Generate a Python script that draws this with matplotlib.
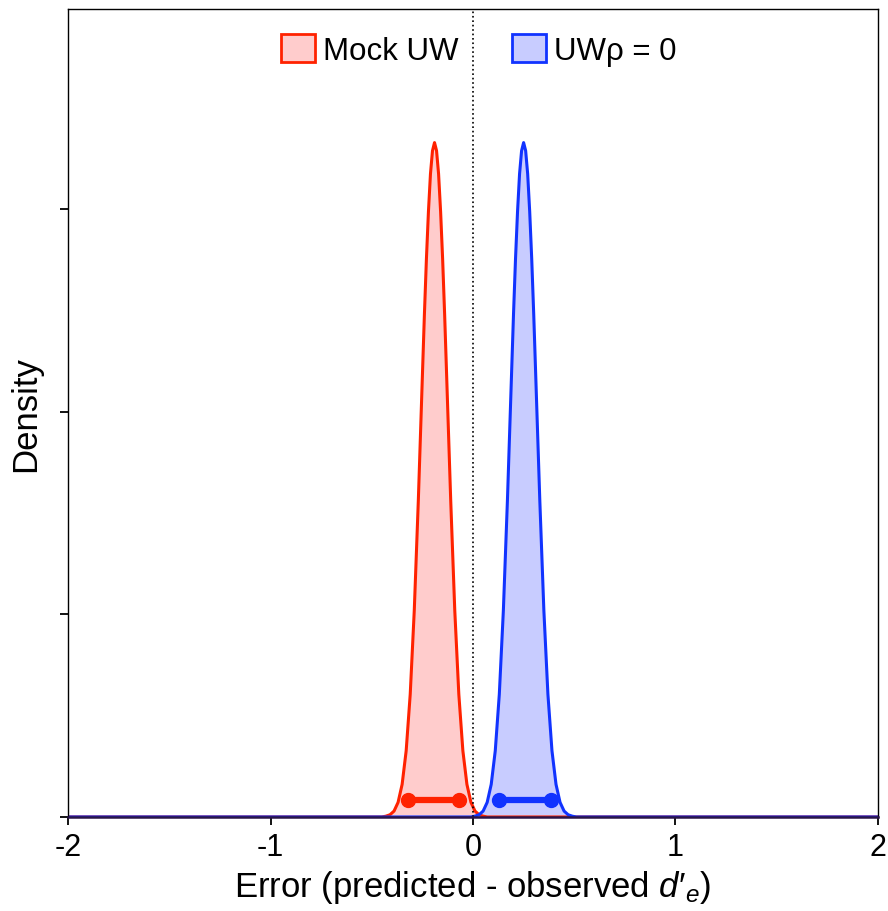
import matplotlib
matplotlib.use("Agg")
import matplotlib.pyplot as plt
from matplotlib.patches import Patch

plt.rcParams['font.family'] = ['Liberation Sans', 'DejaVu Sans']
plt.rcParams['mathtext.fontset'] = 'custom'
plt.rcParams['mathtext.rm'] = 'Liberation Sans'
plt.rcParams['mathtext.it'] = 'Liberation Sans:italic'

# density curves (offsets from each peak, in x units)
offsets = [-1.81, -0.26, -0.24, -0.22, -0.20, -0.18, -0.16, -0.14, -0.12, -0.10, -0.08, -0.06, -0.05, -0.04,
           -0.03, -0.02, -0.01, 0.0, 0.01, 0.02, 0.03, 0.04, 0.05, 0.06, 0.08, 0.10, 0.12, 0.14, 0.16,
           0.18, 0.20, 0.22, 0.24, 0.26, 2.19]
dens = [0.0, 0.0, 0.004, 0.011, 0.029, 0.072, 0.161, 0.327, 0.606, 1.020, 1.562, 2.175, 2.48, 2.756,
        2.99, 3.176, 3.29, 3.33, 3.29, 3.176, 2.99, 2.756, 2.48, 2.175, 1.562, 1.020, 0.606, 0.327, 0.161,
        0.072, 0.029, 0.011, 0.004, 0.0, 0.0]
red_peak = -0.19
blue_peak = 0.25
red_x = [red_peak + o for o in offsets]
blue_x = [blue_peak + o for o in offsets]
blue_x[0], blue_x[-1] = -2.0, 2.0
red_x[0], red_x[-1] = -2.0, 2.0

# intervals
red_ci = [-0.32, -0.068]
blue_ci = [0.13, 0.384]
ci_y = 0.084

red_line = '#ff2200'
red_fill = '#ffcccc'
blue_line = '#1133ff'
blue_fill = '#c8ccff'

fig = plt.figure(figsize=(8.88, 9.12), dpi=100)
ax = fig.add_axes([0.0766, 0.1031, 0.9121, 0.886])

ax.fill_between(red_x, dens, color=red_fill, lw=0)
ax.fill_between(blue_x, dens, color=blue_fill, lw=0)
ax.plot(red_x, dens, color=red_line, lw=2.2)
ax.plot(blue_x, dens, color=blue_line, lw=2.2)
ax.axvline(0, color='black', ls=':', lw=1.2)

ax.plot(red_ci, [ci_y, ci_y], color=red_line, lw=4.5, marker='o', ms=10, solid_capstyle='butt')
ax.plot(blue_ci, [ci_y, ci_y], color=blue_line, lw=4.5, marker='o', ms=10, solid_capstyle='butt')

ax.set_xlim(-2, 2)
ax.set_ylim(0, 3.99)
ax.set_xticks([-2, -1, 0, 1, 2])
ax.set_xticklabels(['-2', '-1', '0', '1', '2'])
ax.set_yticks([0, 1, 2, 3])
ax.set_yticklabels([])
ax.tick_params(direction='out', length=6, width=1.3, labelsize=22, pad=5)
for s in ax.spines.values():
    s.set_linewidth(1.0)
ax.spines['bottom'].set_color('#2a1448')
ax.spines['bottom'].set_linewidth(1.8)
ax.spines['bottom'].set_zorder(5)

ax.set_xlabel("Error (predicted - observed $d$′$_{e}$)", fontsize=25, labelpad=4)
ax.set_ylabel('Density', fontsize=25, labelpad=8)

handles = [Patch(facecolor=red_fill, edgecolor=red_line, lw=2, label='Mock UW'),
           Patch(facecolor=blue_fill, edgecolor=blue_line, lw=2, label='UWρ = 0')]
ax.legend(handles=handles, loc='upper center', bbox_to_anchor=(0.507, 1.0), ncol=2, frameon=False,
          fontsize=22.5, handlelength=1.1, handleheight=1.0, handletextpad=0.25, columnspacing=1.7,
          borderaxespad=0.4)

fig.savefig('out.png', dpi=100)
